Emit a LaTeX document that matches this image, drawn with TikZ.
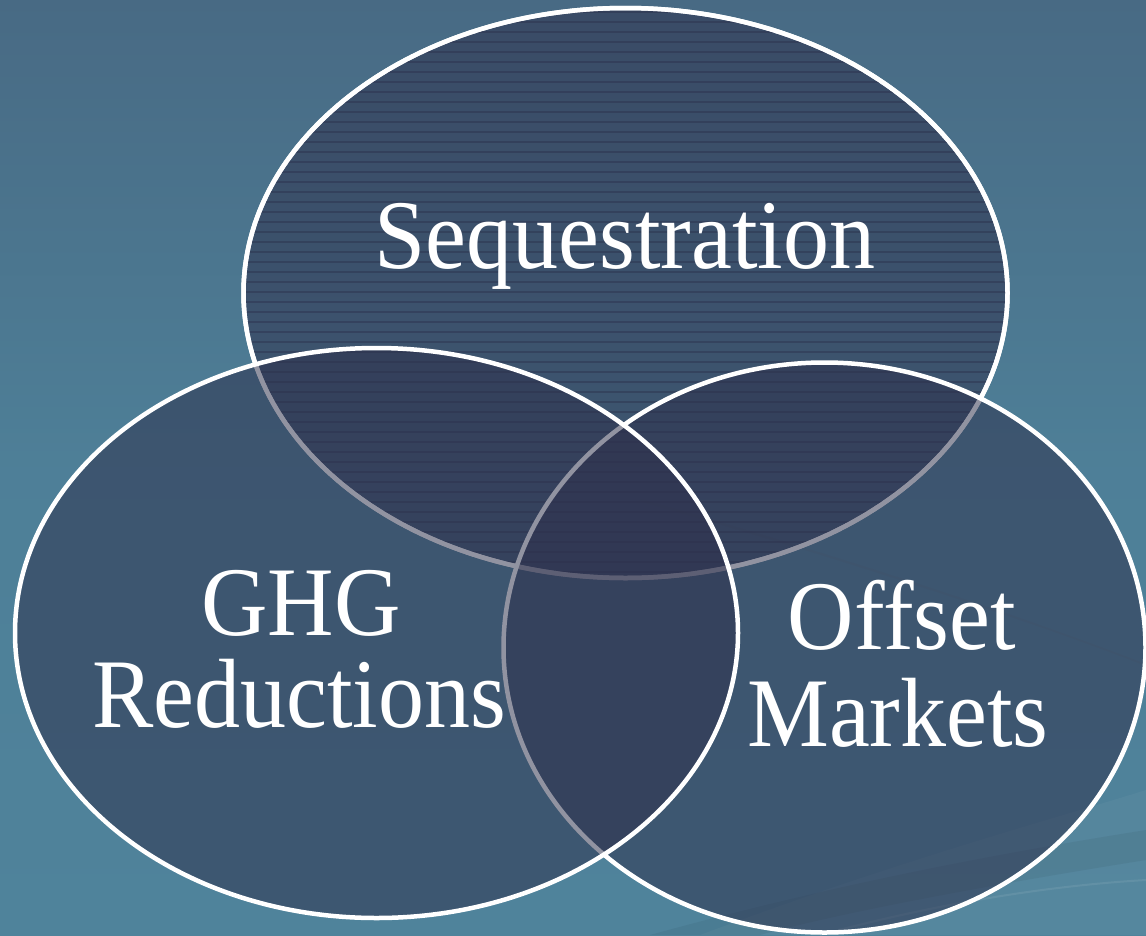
\documentclass[tikz,border=0pt]{standalone}
\usepackage{fontspec}
\setmainfont{Liberation Serif}
\usepackage{graphicx}
\newcommand\vst[1]{\scalebox{1}[1.07]{#1}}
\definecolor{bgtop}{RGB}{72,106,132}
\definecolor{bgbot}{RGB}{79,131,155}
\definecolor{vfill}{RGB}{46,48,76}
\definecolor{stripe}{RGB}{40,42,70}
\tikzset{
  venn/.style={fill=vfill, fill opacity=0.52, draw=white, draw opacity=1, line width=4.5pt},
  stripeline/.style={draw=stripe, line width=1.1pt, opacity=0.38},
  swoosh/.style={line width=2pt, opacity=0.12},
  lbl/.style={text=white, font=\fontsize{92}{100}\selectfont, inner sep=0pt, anchor=base}
}
\begin{document}
\begin{tikzpicture}[x=1pt,y=-1pt]
\useasboundingbox (0,0) rectangle (1146,935);
% background
\shade[top color=bgtop, bottom color=bgbot, middle color=bgbot!85!bgtop] (0,0) rectangle (1146,935);
% faint background swooshes
\draw[swoosh, draw=black!60] (640,500) .. controls (850,560) and (1030,620) .. (1146,665);
\fill[white, opacity=0.035] (700,935) .. controls (900,860) and (1050,820) .. (1146,790) -- (1146,935) -- cycle;
\fill[black, opacity=0.05] (650,935) .. controls (850,880) and (1020,850) .. (1146,830) -- (1146,860) .. controls (1020,880) and (850,910) .. (760,935) -- cycle;
\draw[swoosh, draw=white, opacity=0.08] (820,935) .. controls (950,900) and (1060,885) .. (1146,880);
% top ellipse (Sequestration)
\path[venn] (625.5,293) ellipse [x radius=382pt, y radius=285pt];
\begin{scope}
  \clip (625.5,293) ellipse [x radius=380pt, y radius=283pt];
  \foreach \yy in {12,22,...,582} \draw[stripeline] (240,\yy) -- (1012,\yy);
\end{scope}
\draw[white, line width=4.5pt] (625.5,293) ellipse [x radius=382pt, y radius=285pt];
% right ellipse (Offset Markets)
\path[venn] (824.5,647.5) ellipse [x radius=321pt, y radius=285pt];
% left ellipse (GHG Reductions)
\path[venn] (376.5,633) ellipse [x radius=361.5pt, y radius=285pt];
% labels
\node[lbl] (seq) at (625,268) {\vst{Sequestration}};
\node[lbl] (ghg) at (301,635) {\vst{GHG}};
\node[lbl] (red) at (299,727) {\vst{Reductions}};
\node[lbl] (off) at (902,649) {\vst{Offset}};
\node[lbl] (mkt) at (898,746) {\vst{Markets}};
\end{tikzpicture}
\end{document}
